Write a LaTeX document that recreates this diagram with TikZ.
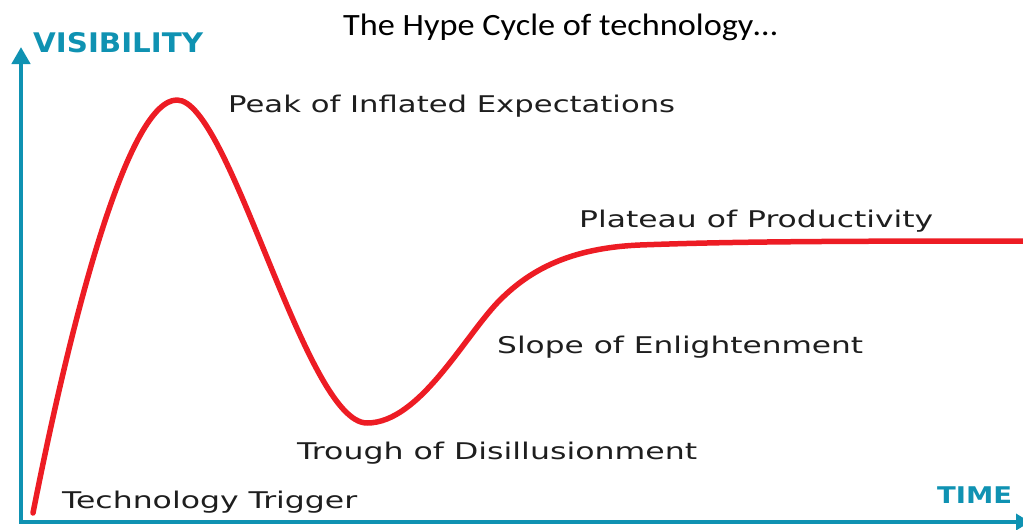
\documentclass[tikz,border=0pt]{standalone}
\usepackage{fontspec}
\setmainfont{DejaVu Sans}
\newfontfamily\titlefont{Carlito}
\usetikzlibrary{arrows.meta}
\definecolor{axisteal}{HTML}{0F92B2}
\definecolor{hypered}{HTML}{ED1C24}
\definecolor{labelgray}{HTML}{1E1E1E}
\newcommand\fitwidth[2]{\setbox0=\hbox{#2}\pgfmathsetmacro\fwscale{#1/\the\wd0}\scalebox{\fwscale}[1]{\box0}}
\tikzset{
  phase/.style={anchor=base west, inner sep=0pt, text=labelgray, font=\fontsize{23}{23}\selectfont},
  axislabel/.style={anchor=base west, inner sep=0pt, text=axisteal, font=\fontsize{27}{27}\selectfont\bfseries},
  axisline/.style={draw=axisteal, line width=4.5pt, line join=miter},
  hype/.style={draw=hypered, line width=5.5pt, line cap=round, line join=round}
}
\begin{document}
\begin{tikzpicture}[x=1pt,y=-1pt]
\useasboundingbox (0,0) rectangle (1023,530);
% title
\node[anchor=base west, inner sep=0pt, font=\titlefont\fontsize{31}{31}\selectfont] (title) at (343,35) {\fitwidth{434}{The Hype Cycle of technology…}};
% axes
\coordinate (origin) at (21,522);
\coordinate (ytip) at (21,47);
\coordinate (xtip) at (1030,522);
\draw[axisline, {Triangle[width=18pt,length=17pt]}-{Triangle[width=16pt,length=14pt]}] (ytip) -- (origin) -- (xtip);
\node[axislabel] (visibility) at (33,52) {\fitwidth{170}{VISIBILITY}};
\node[axislabel, font=\fontsize{23}{23}\selectfont\bfseries] (time) at (937,503) {\fitwidth{75}{TIME}};
% hype curve
\coordinate (start) at (33,513);
\coordinate (peakpt) at (177,100);
\coordinate (troughpt) at (367,423);
\coordinate (slopept) at (500,300);
\coordinate (kneept) at (640,245);
\coordinate (endpt) at (1023,241);
\draw[hype] (start) .. controls (75,300) and (130,100) .. (peakpt)
  .. controls (230,100) and (305,423) .. (troughpt)
  .. controls (420,423) and (465,335) .. (slopept)
  .. controls (530,270) and (570,248) .. (kneept)
  .. controls (720,242) and (800,241) .. (endpt);
% phase labels
\node[phase] (peak) at (228,112) {\fitwidth{447}{Peak of Inflated Expectations}};
\node[phase] (plateau) at (579,227) {\fitwidth{354}{Plateau of Productivity}};
\node[phase] (slope) at (497,353) {\fitwidth{366}{Slope of Enlightenment}};
\node[phase] (trough) at (297,459) {\fitwidth{400}{Trough of Disillusionment}};
\node[phase] (trigger) at (62,508) {\fitwidth{295}{Technology Trigger}};
\end{tikzpicture}
\end{document}
